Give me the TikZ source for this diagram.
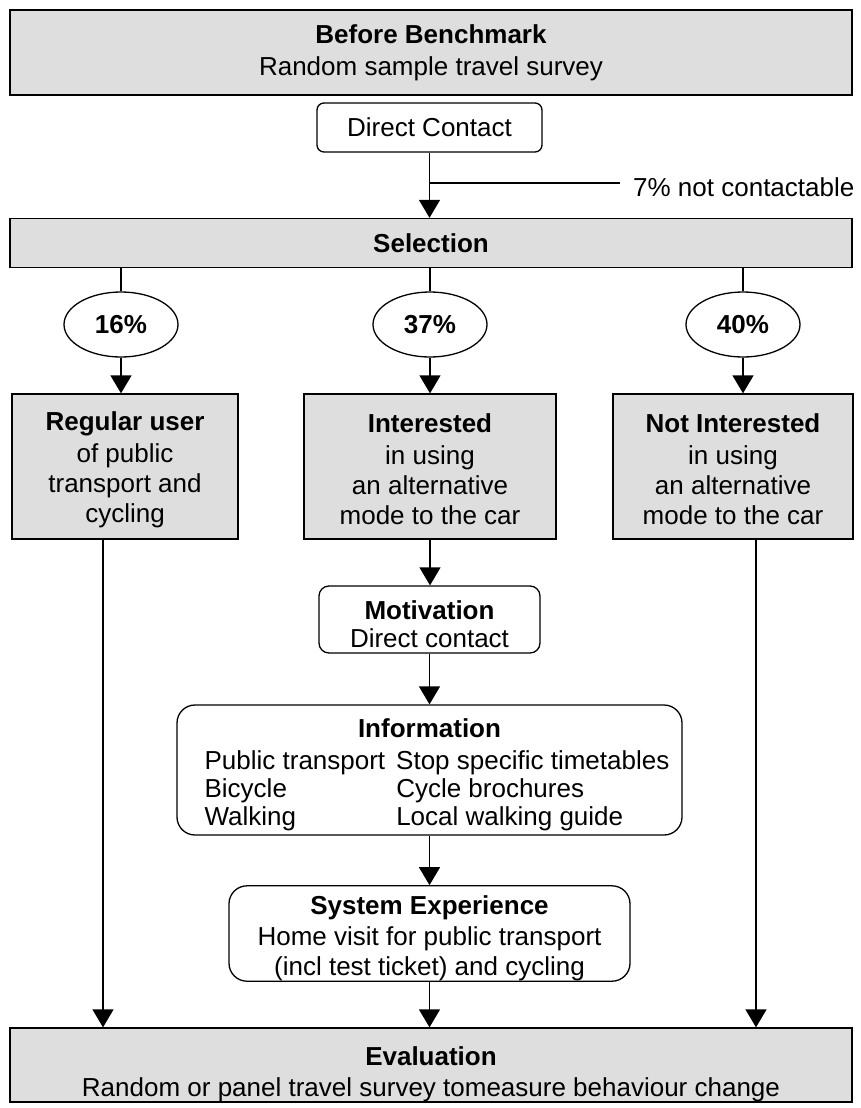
\documentclass[tikz,border=0pt]{standalone}
\usepackage{fontspec}
\setmainfont{Liberation Sans}
\usetikzlibrary{arrows.meta,shapes.geometric}
\definecolor{boxgray}{RGB}{222,222,222}
\newcommand\tup[1]{\rule{0pt}{#1pt}}
\begin{document}
\begin{tikzpicture}[x=1pt,y=-1pt,
  every node/.style={font=\fontsize{26}{30}\selectfont, align=center, inner sep=0pt},
  graybox/.style={draw, fill=boxgray, line width=1.3pt},
  roundbox/.style={draw, fill=white, rounded corners=#1, line width=1.3pt},
  roundbox/.default=8pt,
  pct/.style={ellipse, draw, fill=white, line width=1.3pt, minimum width=114, minimum height=65},
  conn/.style={line width=1.3pt, -{Triangle[length=18pt,width=21pt]}},
  plain/.style={line width=1.3pt}]
\useasboundingbox (0,0) rectangle (860,1108);

\node[graybox, minimum width=842, minimum height=85] (bb) at (431,52.5)
  {\textbf{Before Benchmark}\\[2pt]Random sample travel survey};
\node[roundbox=7pt, minimum width=225, minimum height=49] (dc) at (429.5,127.5) {Direct Contact};
\node[graybox, minimum width=842, minimum height=49] (sel) at (431,243) {\textbf{Selection}};
\node[anchor=west, inner xsep=13pt] (nc) at (620,187) {7\% not contactable};

\node[pct] (p16) at (121,324.5) {\textbf{16\%}};
\node[pct] (p37) at (430,324.5) {\textbf{37\%}};
\node[pct] (p40) at (743,324.5) {\textbf{40\%}};

\node[graybox, minimum width=226, minimum height=145] (reg) at (125,466.5)
  {\tup{25}\textbf{Regular user}\\[2pt]of public\\transport and\\cycling};
\node[graybox, minimum width=252, minimum height=145] (int) at (430,466.5)
  {\tup{25}\textbf{Interested}\\[2pt]in using\\an alternative\\mode to the car};
\node[graybox, minimum width=240, minimum height=145] (nint) at (733,466.5)
  {\tup{25}\textbf{Not Interested}\\[2pt]in using\\an alternative\\mode to the car};

\node[roundbox=10pt, minimum width=221, minimum height=67] (mot) at (429.5,619.5)
  {\tup{29}\textbf{Motivation}\\[-2pt]Direct contact};
\node[roundbox=18pt, minimum width=505, minimum height=130] (info) at (429.5,770)
  {\tup{31}\textbf{Information}\\[11pt]\hspace*{15pt}{\fontsize{26}{28}\selectfont\begin{tabular}{@{}l@{\hspace{11pt}}l@{}}
  Public transport & Stop specific timetables\\
  Bicycle & Cycle brochures\\
  Walking & Local walking guide
  \end{tabular}}};
\node[roundbox=18pt, minimum width=401, minimum height=93] (sys) at (429.5,933.5)
  {\tup{29}\textbf{System Experience}\\[1pt]Home visit for public transport\\(incl test ticket) and cycling};
\node[graybox, minimum width=842, minimum height=74] (eval) at (431,1065) {};
\node (evaltxt) at (431,1074)
  {\textbf{Evaluation}\\[1pt]Random or panel travel survey tomeasure behaviour change};

\draw[conn] (dc.south) -- (dc.south |- sel.north);
\coordinate (br) at (429.5,183);
\draw[plain] (br) -- (br -| nc.west);

\draw[plain] (sel.south -| p16) -- (p16.north);
\draw[plain] (sel.south -| p37) -- (p37.north);
\draw[plain] (sel.south -| p40) -- (p40.north);

\draw[conn] (p16.south) -- (p16.south |- reg.north);
\draw[conn] (p37.south) -- (p37.south |- int.north);
\draw[conn] (p40.south) -- (p40.south |- nint.north);

\draw[conn] ([xshift=-22pt]reg.south) -- ([xshift=-22pt]reg.south |- eval.north);
\draw[conn] ([xshift=23pt]nint.south) -- ([xshift=23pt]nint.south |- eval.north);
\draw[conn] (int.south) -- (int.south |- mot.north);
\draw[conn] (mot.south) -- (mot.south |- info.north);
\draw[conn] (info.south) -- (info.south |- sys.north);
\draw[conn] (sys.south) -- (sys.south |- eval.north);
\end{tikzpicture}
\end{document}
